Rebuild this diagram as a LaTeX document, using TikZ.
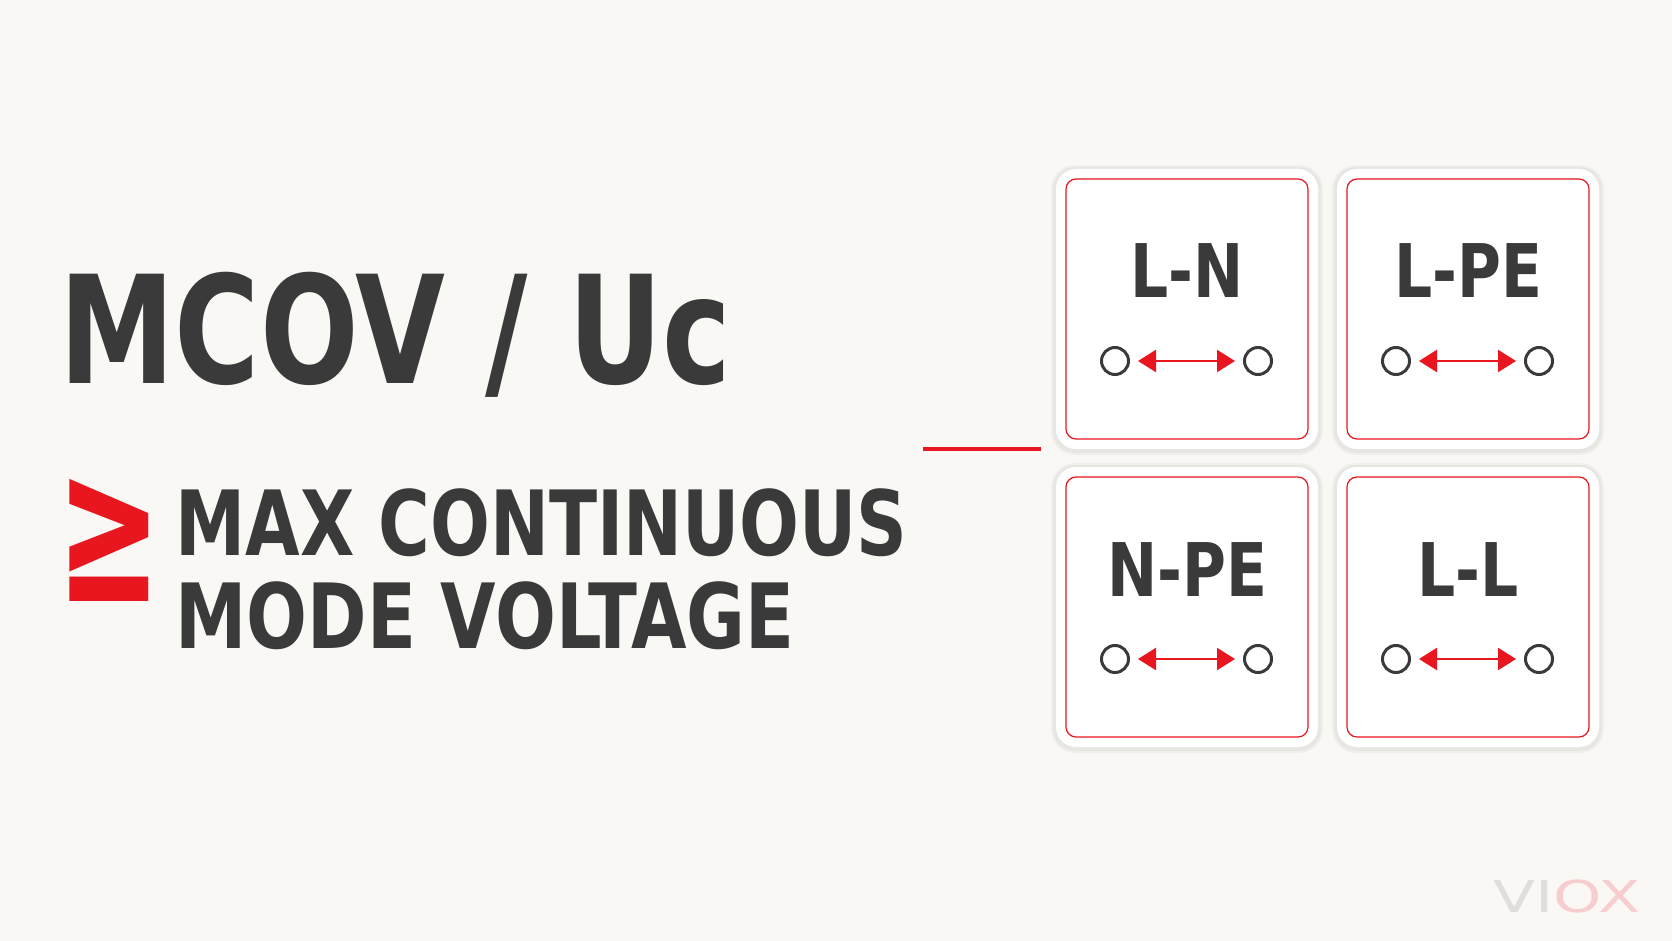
\documentclass[tikz,border=0pt]{standalone}
\usepackage{fontspec}
\setmainfont{DejaVu Sans Condensed}
\newfontfamily\symfont{DejaVu Sans}
\newfontfamily\logofont{DejaVu Sans}
\usetikzlibrary{arrows.meta}
\definecolor{bg}{HTML}{FAF8F5}
\definecolor{ink}{HTML}{3A3A3A}
\definecolor{vred}{HTML}{E8161E}
\definecolor{logogray}{HTML}{E0DEDC}
\definecolor{logopink}{HTML}{F8CDD0}
\tikzset{
  outercard/.style={fill=white, rounded corners=10pt, minimum width=131pt, minimum height=140pt, inner sep=0pt},
  redcard/.style={draw=vred, line width=0.6pt, rounded corners=5pt, minimum width=121pt, minimum height=130pt, inner sep=0pt},
  cardlabel/.style={anchor=base, xscale=0.9, font=\fontsize{37}{40}\selectfont\bfseries, text=ink, inner sep=0pt},
  term/.style={circle, draw=ink, line width=1.5pt, minimum size=13.5pt, inner sep=0pt},
  redarrow/.style={draw=vred, line width=1.2pt, {Triangle[length=9pt,width=11pt]}-{Triangle[length=9pt,width=11pt]}, shorten <=4pt, shorten >=4pt},
  bigtext/.style={anchor=base west, text=ink, inner sep=0pt},
}
\begin{document}
\begin{tikzpicture}[x=0.5pt,y=-0.5pt]
\fill[bg] (0,0) rectangle (1672,941);
\useasboundingbox (0,0) rectangle (1672,941);

% title
\node[bigtext, xscale=0.86, font=\fontsize{75}{80}\selectfont\bfseries] (title) at (59,384) {MCOV / Uc};
\node[anchor=north west, inner sep=0pt, text=vred, xscale=1.05, yscale=1.75, font=\symfont\bfseries\fontsize{60}{60}\selectfont] (geq) at (56,479) {≥};
\node[bigtext, xscale=0.87, font=\fontsize{45}{48}\selectfont\bfseries] (line1) at (175,555) {MAX CONTINUOUS};
\node[bigtext, xscale=0.885, font=\fontsize{45}{48}\selectfont\bfseries] (line2) at (175,648) {MODE VOLTAGE};

% connector line
\coordinate (la) at (923,449);
\coordinate (lb) at (1041,449);
\draw[vred, line width=2pt] (la) -- (lb);

% cards
\foreach \cx/\cy/\lab/\nm in {1187/309/L-N/c1, 1468/309/L-PE/c2, 1187/607/N-PE/c3, 1468/607/L-L/c4}{
  \fill[black, opacity=0.035, rounded corners=12pt] (\cx-136,\cy-144) rectangle (\cx+136,\cy+146);
  \fill[black, opacity=0.035, rounded corners=11pt] (\cx-134,\cy-142) rectangle (\cx+134,\cy+144);
  \node[outercard] (\nm o) at (\cx,\cy) {};
  \node[redcard] (\nm) at (\cx,\cy) {};
  \node[cardlabel] (\nm t) at (\cx,\cy-11) {\lab};
  \node[term] (\nm a) at (\cx-72,\cy+52) {};
  \node[term] (\nm b) at (\cx+71,\cy+52) {};
  \draw[redarrow] (\nm a) -- (\nm b);
}

% logo
\node[anchor=base west, inner sep=0pt, xscale=1.4, font=\logofont\fontsize{22}{22}\selectfont] (logo) at (1493,912) {\textcolor{logogray}{VI}\textcolor{logopink}{OX}};
\end{tikzpicture}
\end{document}
